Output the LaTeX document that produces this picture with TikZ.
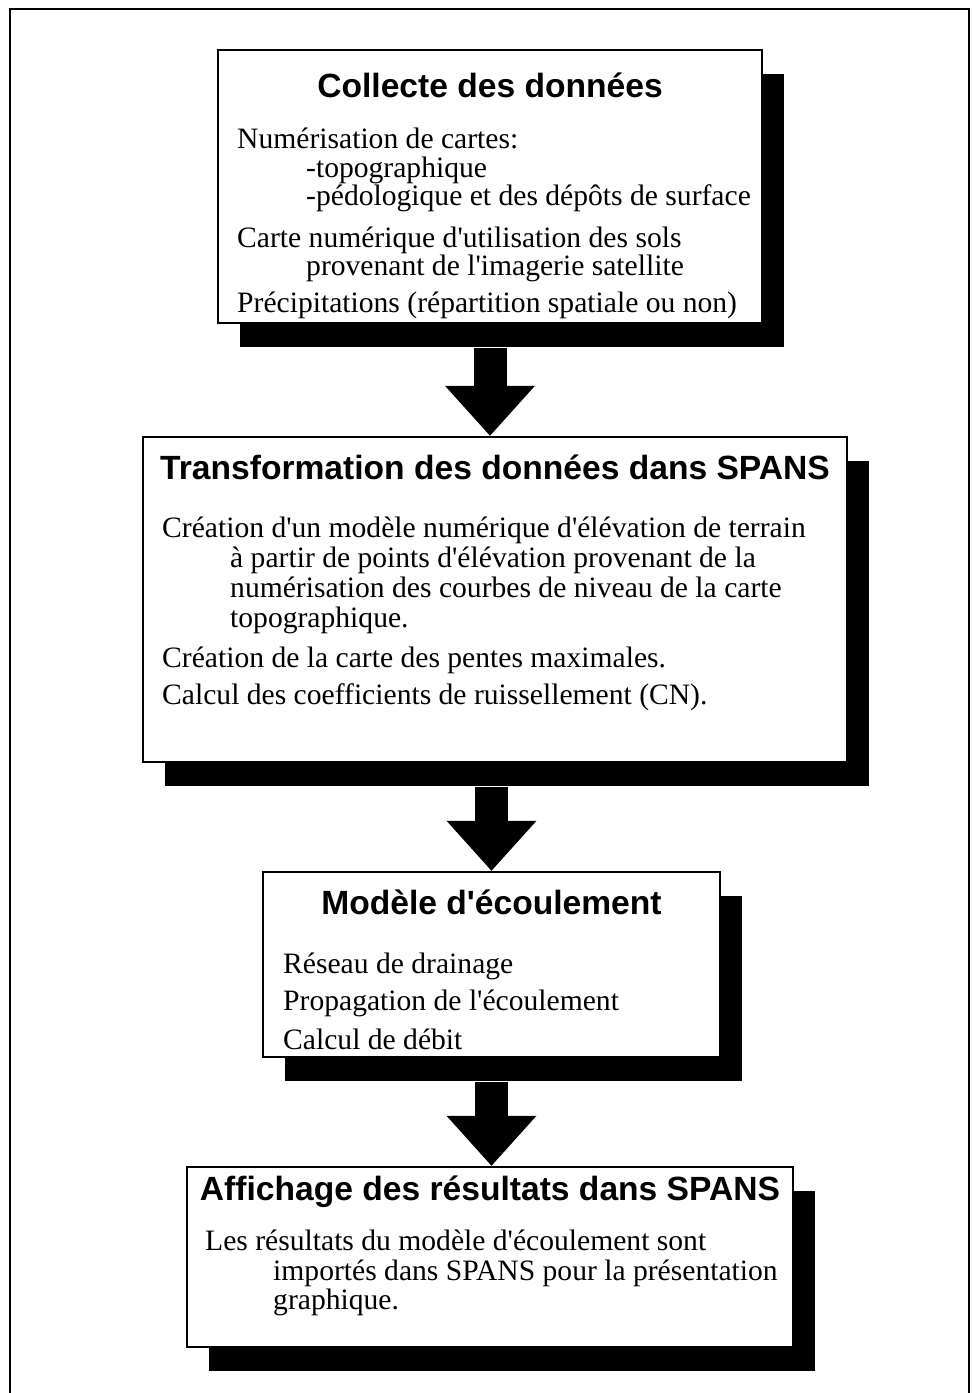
\documentclass[tikz,border=0pt]{standalone}
\usepackage{fontspec}
\setmainfont{Liberation Serif}
\newfontfamily\bodyfont{Liberation Serif}
\newfontfamily\titlefont{Liberation Sans}
\usetikzlibrary{shadows,calc}
\begin{document}
\begin{tikzpicture}[x=1pt,y=-1pt,
  flowbox/.style={draw=black, line width=2.5pt, fill=white, rectangle, inner sep=0pt,
     drop shadow={shadow xshift=22pt, shadow yshift=-24pt, opacity=1, fill=black}},
  boxtitle/.style={font=\titlefont\bfseries\fontsize{33.6}{36}\selectfont, anchor=base, inner sep=0pt},
  boxline/.style={font=\bodyfont\fontsize{29.6}{32}\selectfont, anchor=base west, inner sep=0pt},
  shaft/.style={line width=33pt},
  headtip/.style={fill=black}
]
\useasboundingbox (0,0) rectangle (973,1393);
\draw[line width=2.5pt] (10,1393) -- (10,9) -- (969,9) -- (969,1393);

% boxes
\node[flowbox, minimum width=544pt, minimum height=273pt] (b1) at (490,186.5) {};
\node[flowbox, minimum width=704pt, minimum height=325pt] (b2) at (495,599.5) {};
\node[flowbox, minimum width=457pt, minimum height=185pt] (b3) at (491.5,964.5) {};
\node[flowbox, minimum width=606pt, minimum height=180pt] (b4) at (490,1257) {};

% box 1
\node[boxtitle] (h1) at (490,97) {Collecte des données};
\node[boxline] (t11) at (237,148) {Numérisation de cartes:};
\node[boxline] (t12) at (306,177) {-topographique};
\node[boxline] (t13) at (306,205) {-pédologique et des dépôts de surface};
\node[boxline] (t14) at (237,247) {Carte numérique d'utilisation des sols};
\node[boxline] (t15) at (306,275) {provenant de l'imagerie satellite};
\node[boxline] (t16) at (237,312) {Précipitations (répartition spatiale ou non)};

% box 2
\node[boxtitle] (h2) at (495,479) {Transformation des données dans SPANS};
\node[boxline] (t21) at (162,537) {Création d'un modèle numérique d'élévation de terrain};
\node[boxline] (t22) at (230,567) {à partir de points d'élévation provenant de la};
\node[boxline] (t23) at (230,597) {numérisation des courbes de niveau de la carte};
\node[boxline] (t24) at (230,627) {topographique.};
\node[boxline] (t25) at (162,667) {Création de la carte des pentes maximales.};
\node[boxline] (t26) at (162,704) {Calcul des coefficients de ruissellement (CN).};

% box 3
\node[boxtitle] (h3) at (491.5,914) {Modèle d'écoulement};
\node[boxline] (t31) at (283,973) {Réseau de drainage};
\node[boxline] (t32) at (283,1010) {Propagation de l'écoulement};
\node[boxline] (t33) at (283,1049) {Calcul de débit};

% box 4
\node[boxtitle] (h4) at (490,1200) {Affichage des résultats dans SPANS};
\node[boxline] (t41) at (205,1250) {Les résultats du modèle d'écoulement sont};
\node[boxline] (t42) at (273,1280) {importés dans SPANS pour la présentation};
\node[boxline] (t43) at (273,1309) {graphique.};

% arrows
\coordinate (s1) at ([yshift=-24pt]b1.south);
\coordinate (s2) at ([yshift=-24pt]b2.south -| b3.north);
\coordinate (s3) at ([yshift=-24pt]b3.south);
\draw[shaft] (s1) -- ($(b2.north -| s1)+(0,-48)$);
\fill[headtip] (b2.north -| s1) -- ++(-45,-50) -- ++(90,0) -- cycle;
\draw[shaft] (s2) -- ($(b3.north)+(0,-48)$);
\fill[headtip] (b3.north) -- ++(-45,-50) -- ++(90,0) -- cycle;
\draw[shaft] (s3) -- ($(b4.north -| s3)+(0,-48)$);
\fill[headtip] (b4.north -| s3) -- ++(-45,-50) -- ++(90,0) -- cycle;
\end{tikzpicture}
\end{document}
